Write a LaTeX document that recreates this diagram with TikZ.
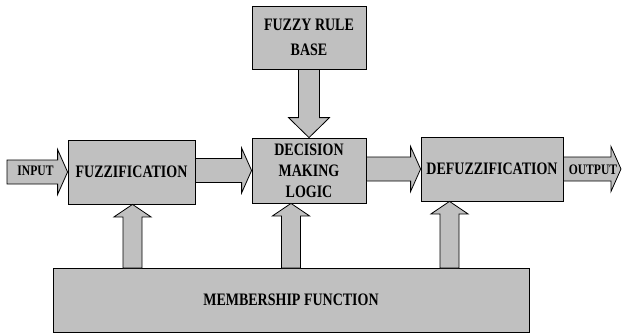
\documentclass[tikz,border=0pt]{standalone}
\usepackage{fontspec}
\usetikzlibrary{calc}
\newfontfamily\boxfont{Liberation Serif}[FakeStretch=0.8]
\definecolor{boxgray}{RGB}{192,192,192}
% block arrows: start, tip
\newcommand{\harrow}[2]{%
	\draw[blockarrow] let \p1=(#1), \p2=(#2) in
		(\x1,\y2+12pt) -- (\x2-10pt,\y2+12pt) -- (\x2-10pt,\y2+22.5pt) -- (\x2,\y2)
		-- (\x2-10pt,\y2-22.5pt) -- (\x2-10pt,\y2-12pt) -- (\x1,\y2-12pt) -- cycle;}
% start, tip, shaft half width, head half width, head length
\newcommand{\varrow}[5]{%
	\draw[blockarrow] let \p1=(#1), \p2=(#2) in
		({\x2-#3},\y1) -- ({\x2-#3},{\y2-(#5)}) -- ({\x2-#4},{\y2-(#5)}) -- (\x2,\y2)
		-- ({\x2+#4},{\y2-(#5)}) -- ({\x2+#3},{\y2-(#5)}) -- ({\x2+#3},\y1) -- cycle;}
\begin{document}
\begin{tikzpicture}[x=1pt, y=-1pt,
	box/.style={draw, fill=boxgray, line width=0.8pt, inner sep=0pt, align=center,
		font=\boxfont\bfseries\fontsize{17.5}{21}\selectfont},
	blockarrow/.style={draw, fill=boxgray, line width=0.8pt},
	lbl/.style={inner sep=0pt, font=\boxfont\bfseries\fontsize{14.5}{17}\selectfont}]
	\useasboundingbox (0,0) rectangle (622,333);
	\node[box, minimum width=114pt, minimum height=63pt, font=\boxfont\bfseries\fontsize{17.5}{25}\selectfont] (rule) at (309,37.5) {FUZZY RULE\\BASE};
	\node[box, minimum width=127pt, minimum height=64pt] (fuzz) at (131.5,172) {FUZZIFICATION};
	\node[box, minimum width=114pt, minimum height=65pt] (dec) at (309,170.5) {DECISION\\MAKING\\LOGIC};
	\node[box, minimum width=142pt, minimum height=64pt] (defuzz) at (492,169) {DEFUZZIFICATION};
	\node[box, minimum width=476pt, minimum height=64pt] (mf) at (291,300) {MEMBERSHIP FUNCTION};
	\coordinate (in) at (7,171);
	\coordinate (out) at (621,169);
	\coordinate (m1) at (132.5,268);
	\coordinate (m2) at (291,268);
	\coordinate (m3) at (449.5,268);
	\harrow{in}{fuzz.west}
	\harrow{fuzz.east}{dec.west}
	\harrow{dec.east}{defuzz.west}
	\harrow{defuzz.east}{out}
	\varrow{rule.south}{dec.north}{10.5pt}{20.5pt}{-20pt}
	\varrow{m1}{m1 |- fuzz.south}{9.5pt}{18.5pt}{12.5pt}
	\varrow{m2}{m2 |- dec.south}{9.5pt}{18.5pt}{12.5pt}
	\varrow{m3}{m3 |- defuzz.south}{9.5pt}{18.5pt}{12.5pt}
	\node[lbl] (inlbl) at (35.5,171) {INPUT};
	\node[lbl] (outlbl) at (593,170) {OUTPUT};
\end{tikzpicture}
\end{document}
